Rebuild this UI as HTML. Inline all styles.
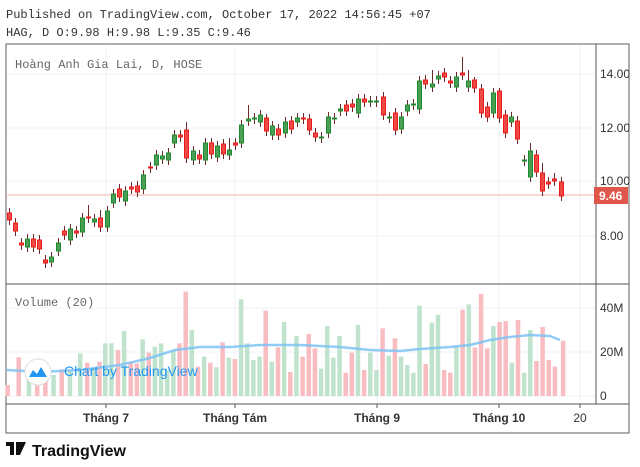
<!DOCTYPE html>
<html><head><meta charset="utf-8"><style>
body{margin:0;background:#fff;width:640px;height:467px;overflow:hidden;font-family:"Liberation Mono",monospace}
</style></head><body>
<svg id="s" width="640" height="467" xmlns="http://www.w3.org/2000/svg" style="position:absolute;left:0;top:0">
<text x="6" y="18" font-family="Liberation Mono,monospace" font-size="12" fill="#333">Published on TradingView.com, October 17, 2022 14:56:45 +07</text>
<text x="6" y="36" font-family="Liberation Mono,monospace" font-size="12" fill="#333">HAG, D O:9.98 H:9.98 L:9.35 C:9.46</text>
<rect x="6" y="44" width="623" height="389" fill="#fff" stroke="#5d5d5d" stroke-width="1"/>
<g id="grid" stroke="#eef2f7" stroke-width="1"></g>
<line x1="596" y1="44" x2="596" y2="404" stroke="#555"/>
<line x1="6" y1="284" x2="629" y2="284" stroke="#555"/>
<line x1="6" y1="404" x2="629" y2="404" stroke="#555"/>
<line x1="6" y1="195" x2="596" y2="195" stroke="#f3b3a8"/>
<g id="vol"></g>
<polyline fill="none" stroke="#7cc3f5" stroke-width="2.5" stroke-opacity="0.85" points="7,370 40,372 80,370 120,365 150,358 175,350 200,347 230,347 260,345 300,345 340,347 370,350 400,351 420,349 450,347 470,345 490,340 510,337 530,335 550,336 560,340"/>
<g id="c"></g>
<text x="15" y="68" font-family="Liberation Mono,monospace" font-size="12" fill="#666">Hoàng Anh Gia Lai, D, HOSE</text>
<text x="15" y="306" font-family="Liberation Mono,monospace" font-size="12" fill="#666">Volume (20)</text>
<g font-family="Liberation Sans,sans-serif" font-size="12" fill="#333">
<text x="600" y="78">14.00</text><text x="600" y="132">12.00</text><text x="600" y="185">10.00</text><text x="600" y="240">8.00</text>
<text x="600" y="312">40M</text><text x="600" y="356">20M</text><text x="600" y="400">0</text>
</g>
<rect x="594" y="187" width="34" height="17" fill="#e0564a"/>
<text x="599" y="200" font-family="Liberation Sans,sans-serif" font-size="12" font-weight="bold" fill="#fff">9.46</text>
<g stroke="#555"><line x1="106" y1="404" x2="106" y2="408"/><line x1="235" y1="404" x2="235" y2="408"/><line x1="377" y1="404" x2="377" y2="408"/><line x1="499" y1="404" x2="499" y2="408"/><line x1="580" y1="404" x2="580" y2="408"/></g>
<g font-family="Liberation Sans,sans-serif" font-size="12" fill="#333" font-weight="bold" text-anchor="middle">
<text x="106" y="422">Tháng 7</text><text x="235" y="422">Tháng Tám</text><text x="377" y="422">Tháng 9</text><text x="499" y="422">Tháng 10</text><text x="580" y="422" font-weight="normal">20</text>
</g>
<circle cx="38" cy="372" r="13" fill="#fff" stroke="#ddd"/>
<path d="M29 377 L33 370 L37 374 L41 367 L47 377 Z" fill="#2196f3"/>
<text x="64" y="376" font-family="Liberation Sans,sans-serif" font-size="14" fill="#2196f3">Chart by TradingView</text>
<rect x="6" y="442" width="7" height="4" fill="#111"/><rect x="10" y="442" width="4" height="13" fill="#111"/><path d="M16 442 L26 442 L20 455 L16 455 Z" fill="#111"/>
<text x="32" y="456" font-family="Liberation Sans,sans-serif" font-size="16" font-weight="bold" fill="#111">TradingView</text>
</svg>
<script>
var NS="http://www.w3.org/2000/svg";
function el(p,t,a){var e=document.createElementNS(NS,t);for(var k in a)e.setAttribute(k,a[k]);document.getElementById(p).appendChild(e);}
[74,128,181,236,308,352,396].forEach(function(y){el("grid","line",{x1:7,x2:596,y1:y,y2:y});});
[106,235,377,499,580].forEach(function(x){el("grid","line",{x1:x,x2:x,y1:45,y2:404});});
var C=[[7,213,220,'r'],[13,223,231,'r'],[19,243,245,'r'],[25,239,247,'g'],[31,239,247,'r'],[37,240,249,'r'],[43,260,263,'r'],[49,257,262,'g'],[56,243,251,'g'],[62,231,235,'r'],[68,229,240,'g'],[74,231,233,'r'],[80,218,232,'g'],[86,217,218,'r'],[92,219,222,'g'],[98,218,227,'r'],[105,211,227,'g'],[111,194,203,'g'],[117,189,197,'r'],[123,191,201,'g'],[129,187,189,'r'],[135,186,192,'r'],[141,175,189,'g'],[148,167,168,'r'],[154,155,165,'g'],[160,156,159,'g'],[166,153,160,'g'],[172,135,143,'g'],[178,135,137,'r'],[184,130,158,'r'],[191,151,160,'g'],[197,155,159,'r'],[203,143,160,'g'],[209,143,154,'r'],[215,146,157,'g'],[221,144,154,'r'],[227,150,155,'g'],[233,143,145,'r'],[239,125,143,'g'],[246,119,121,'g'],[252,118,119,'g'],[258,115,122,'g'],[264,118,131,'r'],[270,126,135,'g'],[276,129,135,'r'],[283,122,133,'g'],[289,121,129,'r'],[295,118,122,'g'],[301,118,119,'r'],[307,119,130,'r'],[313,133,137,'r'],[319,137,138,'g'],[326,117,133,'g'],[332,118,119,'g'],[338,109,111,'g'],[344,105,111,'r'],[350,104,107,'r'],[356,99,113,'g'],[362,99,102,'r'],[368,101,102,'g'],[374,101,102,'g'],[381,97,115,'r'],[387,117,118,'g'],[393,113,130,'r'],[399,117,129,'g'],[405,105,111,'g'],[411,104,105,'g'],[417,81,109,'g'],[423,80,84,'r'],[430,84,87,'g'],[436,76,79,'g'],[442,73,77,'r'],[448,81,83,'r'],[454,77,87,'g'],[460,73,75,'r'],[466,81,87,'g'],[472,80,88,'r'],[479,89,113,'r'],[485,107,117,'r'],[491,93,113,'g'],[497,91,118,'r'],[503,115,133,'r'],[509,117,122,'g'],[515,121,139,'r'],[522,160,161,'g'],[528,151,177,'g'],[534,155,172,'r'],[540,173,191,'r'],[546,182,184,'r'],[552,179,181,'r'],[559,182,196,'r']];
var hi={'7':208,'98':210,'86':205,'184':122,'227':138,'246':105,'264':114,'381':92,'430':70,'460':57,'466':70,'472':77,'497':88,'528':143,'540':163,'548':176,'552':173};
C.forEach(function(c){var x=c[0],t=c[1],b=c[2],g=c[3]=='g';var h=hi[x]||t-5,l=b+5;
el("c","line",{x1:x+2.5,x2:x+2.5,y1:h,y2:l,stroke:"#6b2a2a","stroke-width":1});
el("c","rect",{x:x+0.5,y:t,width:4,height:Math.max(1,b-t),fill:g?"#4a9e55":"#ec4a45",stroke:g?"#1e8a2e":"#f01818","stroke-width":1});});
var V=[[18,315,'r'],[45,232,'r'],[70,270,'g'],[90,300,'r'],[110,280,'r'],[130,285,'g'],[150,268,'r'],[170,268,'g'],[195,220,'g'],[212,248,'r'],[228,265,'g'],[242,245,'r'],[256,190,'g'],[271,190,'g'],[287,210,'r'],[302,153,'g'],[318,245,'r'],[333,250,'r'],[347,178,'g'],[362,218,'r'],[377,200,'g'],[392,190,'g'],[407,270,'g'],[422,212,'g'],[437,190,'r'],[452,35,'r'],[467,150,'g'],[482,260,'r'],[497,230,'g'],[512,248,'r'],[527,262,'g'],[542,187,'r'],[557,233,'g'],[572,237,'r'],[587,58,'g'],[602,190,'g'],[617,240,'g'],[632,230,'g'],[647,92,'r'],[662,245,'g'],[677,202,'r'],[692,126,'g'],[707,276,'r'],[722,168,'g'],[737,230,'r'],[752,162,'r'],[767,205,'r'],[782,266,'g'],[797,138,'g'],[812,233,'g'],[827,168,'g'],[842,278,'r'],[857,218,'r'],[872,135,'g'],[887,270,'r'],[902,218,'g'],[917,270,'g'],[932,145,'r'],[947,227,'g'],[962,175,'r'],[977,230,'g'],[992,255,'g'],[1007,278,'g'],[1022,77,'g'],[1037,252,'r'],[1052,128,'g'],[1067,104,'g'],[1082,270,'r'],[1097,278,'r'],[1112,196,'g'],[1127,89,'r'],[1142,73,'g'],[1157,203,'r'],[1172,42,'r'],[1187,205,'r'],[1202,138,'g'],[1217,126,'r'],[1232,123,'r'],[1247,248,'g'],[1262,120,'r'],[1277,278,'g'],[1292,150,'g'],[1307,243,'r'],[1322,141,'r'],[1337,240,'r'],[1352,260,'r'],[1372,182,'r']];
V.forEach(function(v){var x=v[0]/2.4375,t=v[1]/3+280;el("vol","rect",{x:x-2,y:t,width:4.5,height:396-t,fill:v[2]=='g'?"#bfe3cc":"#f8bcc1"});});
</script>
</body></html>
